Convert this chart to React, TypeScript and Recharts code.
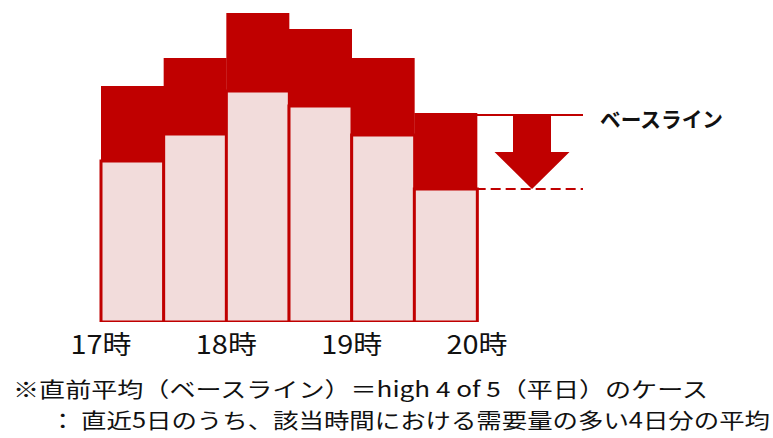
import React from 'react';
import { BarChart, Bar, XAxis, YAxis, ReferenceArea } from 'recharts';

// ---- data ----
const slots = ['17:00', '17:30', '18:00', '18:30', '19:00', '19:30'];
const lowerValues = [161, 188, 231, 216, 187, 133];
const totalValues = [236, 264, 309, 293, 264, 209];
const hourLabels = ['17時', '18時', '19時', '20時'];
const baselineLevel = 207;
const reducedLevel = 133;
const baselineLabel = 'ベースライン';
const noteLine1 = '※直前平均（ベースライン）＝high 4 of 5（平日）のケース';
const noteLine2 = '： 直近5日のうち、該当時間における需要量の多い4日分の平均';

const data = slots.map((slot, i) => ({
  slot,
  lower: lowerValues[i],
  upper: totalValues[i] - lowerValues[i],
}));

const RED = '#C00000';
const PINK = '#F2DCDB';
const FONT = '"Noto Sans CJK JP", "Noto Sans", sans-serif';

function HourTick(props: any) {
  const { x, y, payload } = props;
  const idx = payload?.index ?? props.index ?? 0;
  const half = typeof payload?.offset === 'number' && payload.offset > 0 ? payload.offset : 31.33;
  const items: { x: number; label: string }[] = [];
  if (idx % 2 === 0) items.push({ x: x - half, label: hourLabels[idx / 2] });
  if (idx === slots.length - 1) items.push({ x: x + half, label: hourLabels[hourLabels.length - 1] });
  return (
    <g>
      {items.map((it) => (
        <text
          key={it.label}
          x={it.x}
          y={y + 32}
          textAnchor="middle"
          fontFamily={FONT}
          fontSize={26}
          fill="#111"
          textLength={61}
          lengthAdjust="spacingAndGlyphs"
        >
          {it.label}
        </text>
      ))}
    </g>
  );
}

function BaselineAnnotation(props: any) {
  const { x, y, width, height } = props;
  const right = x + width;
  const lineEnd = right + 106;
  const cx = right + 55;
  const midY = y + height / 2;
  const bottom = y + height;
  const arrow = [
    [cx - 19, y],
    [cx + 19, y],
    [cx + 19, midY],
    [cx + 37.5, midY],
    [cx, bottom],
    [cx - 37.5, midY],
    [cx - 19, midY],
  ]
    .map((p) => p.join(','))
    .join(' ');
  return (
    <g>
      <line x1={right} y1={y} x2={lineEnd} y2={y} stroke={RED} strokeWidth={1.8} />
      <line
        x1={x + width / 2}
        y1={bottom}
        x2={lineEnd}
        y2={bottom}
        stroke={RED}
        strokeWidth={1.8}
        strokeDasharray="10 5"
      />
      <polygon points={arrow} fill={RED} />
      <text
        x={right + 123}
        y={y + 12}
        fontFamily={FONT}
        fontWeight={700}
        fontSize={21}
        fill="#111"
        textLength={123}
        lengthAdjust="spacingAndGlyphs"
      >
        {baselineLabel}
      </text>
    </g>
  );
}

function NoteLine(props: { x: number; baseline: number; length: number; children: string }) {
  const { x, baseline, length, children } = props;
  return (
    <text
      x={x}
      y={baseline}
      fontFamily={FONT}
      fontSize={21}
      fill="#111"
      textLength={length}
      lengthAdjust="spacingAndGlyphs"
    >
      {children}
    </text>
  );
}

export default function App() {
  return (
    <div style={{ position: 'absolute', left: 0, top: 0, width: 773, height: 438, background: '#fff' }}>
      <BarChart
        width={773}
        height={438}
        data={data}
        margin={{ top: 2, right: 296, bottom: 0, left: 101 }}
        barCategoryGap={0}
        barGap={0}
      >
        <XAxis
          dataKey="slot"
          height={116}
          axisLine={false}
          tickLine={false}
          tickSize={0}
          tickMargin={0}
          interval={0}
          tick={<HourTick />}
        />
        <YAxis hide domain={[0, 320]} type="number" allowDataOverflow />
        <Bar dataKey="lower" stackId="a" fill={PINK} stroke={RED} strokeWidth={3} isAnimationActive={false} />
        <Bar dataKey="upper" stackId="a" fill={RED} isAnimationActive={false} />
        <ReferenceArea
          x1={slots[slots.length - 1]}
          x2={slots[slots.length - 1]}
          y1={reducedLevel}
          y2={baselineLevel}
          shape={<BaselineAnnotation />}
        />
      </BarChart>
      <svg
        width={773}
        height={438}
        style={{ position: 'absolute', left: 0, top: 0, pointerEvents: 'none' }}
      >
        <NoteLine x={13} baseline={396.8} length={695}>
          {noteLine1}
        </NoteLine>
        <NoteLine x={50} baseline={427.6} length={720}>
          {noteLine2}
        </NoteLine>
      </svg>
    </div>
  );
}
